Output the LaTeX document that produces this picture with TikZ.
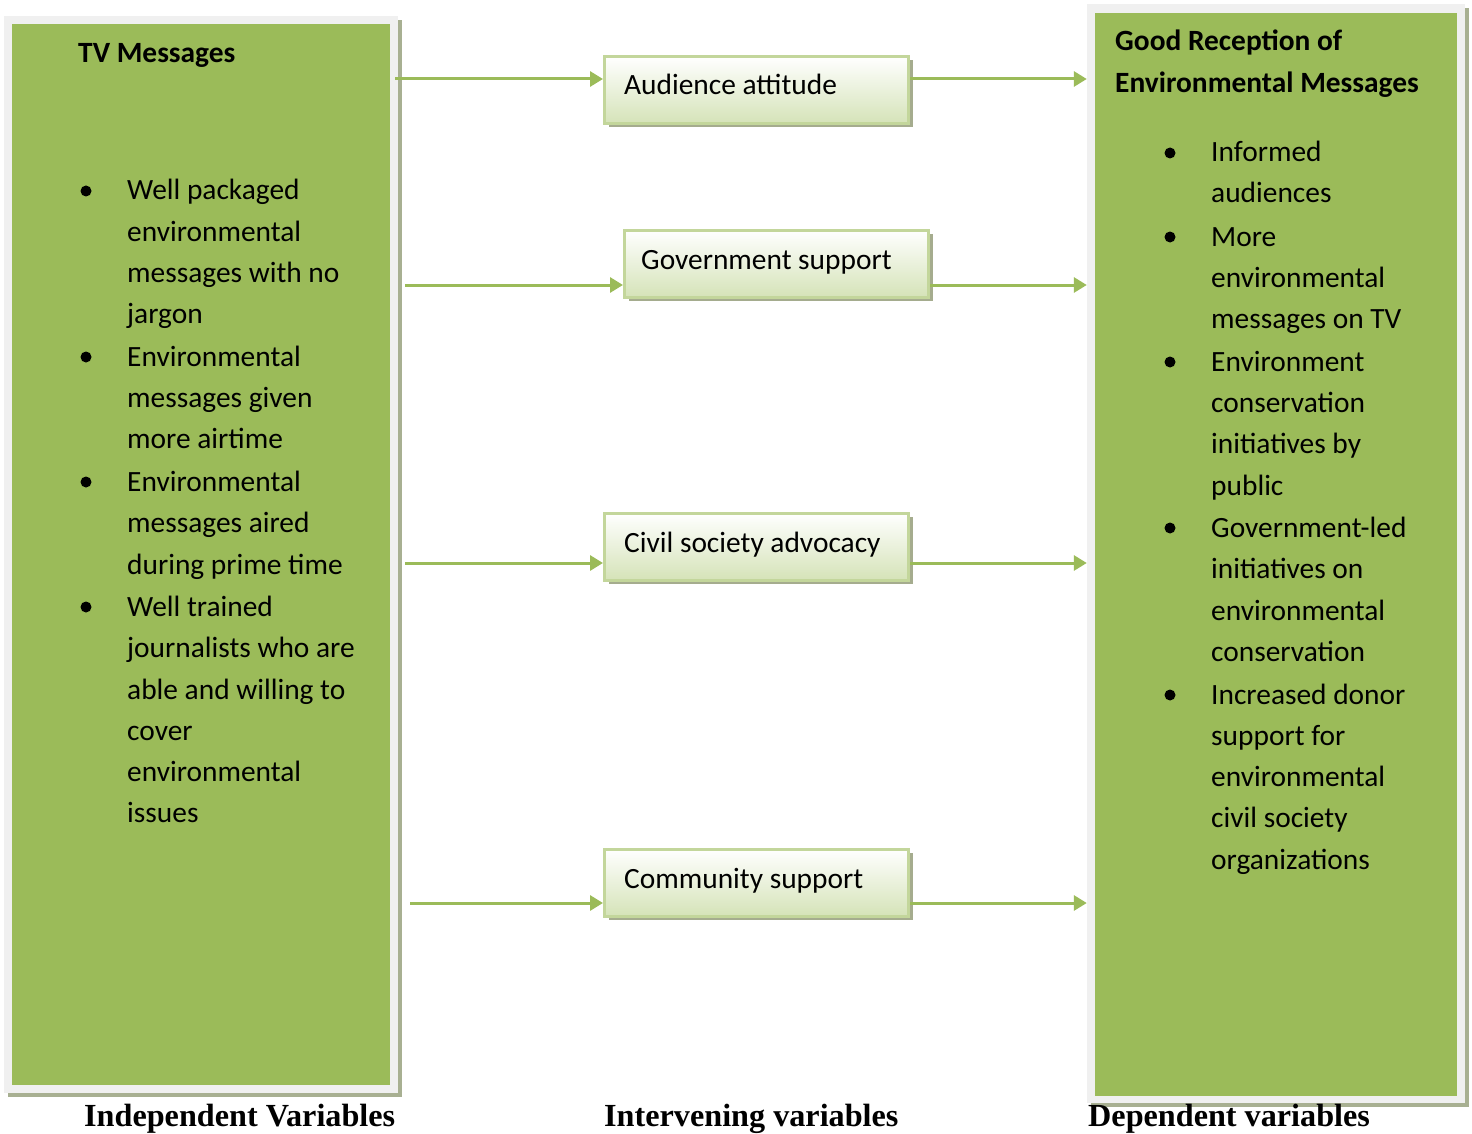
\documentclass[tikz,border=0pt]{standalone}
\usepackage{fontspec}
\setmainfont{Carlito}
\newfontfamily\tnr{Liberation Serif}
\usetikzlibrary{arrows.meta,shadows}
\definecolor{leafgreen}{HTML}{9BBB59}
\definecolor{framegray}{HTML}{F0F0F0}
\definecolor{shadowc}{HTML}{A8B092}
\definecolor{midborder}{HTML}{C3D69B}
\definecolor{midbottom}{HTML}{D5E3B8}
\definecolor{midshadow}{HTML}{A5AC8E}
\begin{document}
\begin{tikzpicture}[x=1pt,y=-1pt,
  bigframe/.style={fill=framegray, inner sep=0, draw=none,
    drop shadow={shadow xshift=4pt, shadow yshift=-4pt, fill=shadowc, opacity=1}},
  greenpanel/.style={fill=leafgreen, inner sep=0, draw=none},
  midbox/.style={draw=midborder, line width=3pt, top color=white, bottom color=midbottom,
    minimum width=304, minimum height=67, inner sep=0,
    drop shadow={shadow xshift=4pt, shadow yshift=-4pt, fill=midshadow, opacity=1}},
  lbl/.style={font=\fontsize{29.4}{35}\selectfont, inner sep=0, anchor=base west},
  head/.style={font=\fontsize{29.4}{35}\selectfont\bfseries, inner sep=0, anchor=base west},
  foot/.style={font=\fontsize{32.2}{37}\selectfont\tnr\bfseries, inner sep=0, anchor=base west},
  dot/.style={circle, fill=black, inner sep=0, minimum size=11},
  arr/.style={draw=leafgreen, line width=3pt, -{Triangle[length=13pt,width=15pt]}}
]
\useasboundingbox (0,0) rectangle (1472,1134);

% big boxes
\node[bigframe, minimum width=394, minimum height=1077] (indep) at (201,554.5) {};
\node[greenpanel, minimum width=378, minimum height=1061] (indepin) at (201,554.5) {};
\node[bigframe, minimum width=378, minimum height=1099] (dep) at (1276,553.5) {};
\node[greenpanel, minimum width=362, minimum height=1083] (depin) at (1276,554.5) {};

% middle boxes
\node[midbox] (aud) at (756.5,90) {};
\node[midbox] (gov) at (776.5,263.5) {};
\node[midbox] (civ) at (756.5,546.5) {};
\node[midbox] (com) at (756.5,882.5) {};
\node[lbl] (audt) at (624,95) {Audience attitude};
\node[lbl] (govt) at (641,269) {Government support};
\node[lbl] (civt) at (624,552) {Civil society advocacy};
\node[lbl] (comt) at (624,888) {Community support};

% connectors
\coordinate (s1) at (395,79);
\coordinate (s2) at (405,285);
\coordinate (s3) at (405,563);
\coordinate (s4) at (410,903);
\draw[arr] (s1) -- (aud.west |- s1);
\draw[arr] (aud.east |- s1) -- (dep.west |- s1);
\draw[arr] (s2) -- (gov.west |- s2);
\draw[arr] (gov.east |- s2) -- (dep.west |- s2);
\draw[arr] (s3) -- (civ.west |- s3);
\draw[arr] (civ.east |- s3) -- (dep.west |- s3);
\draw[arr] (s4) -- (com.west |- s4);
\draw[arr] (com.east |- s4) -- (dep.west |- s4);

% left box text
\node[head] (tvh) at (78,63) {TV Messages};
\foreach \y [count=\i] in {191,357,482,607} \node[dot] (lb\i) at (86,\y) {};
\foreach \t/\y [count=\i] in {Well packaged/200, environmental/241, messages with no/282, jargon/323,
  Environmental/366, messages given/407, more airtime/448,
  Environmental/491, messages aired/532, during prime time/574,
  Well trained/616, journalists who are/657, able and willing to/699, cover/740, environmental/781, issues/822}
  \node[lbl] (lt\i) at (127,\y) {\t};

% right box text
\node[head] (gh1) at (1115,51) {Good Reception of};
\node[head] (gh2) at (1115,93) {Environmental Messages};
\foreach \y [count=\i] in {153,237,362,528,695} \node[dot] (rb\i) at (1170,\y) {};
\foreach \t/\y [count=\i] in {Informed/162, audiences/203,
  More/246, environmental/287, messages on TV/328,
  Environment/371, conservation/412, initiatives by/453, public/495,
  Government-led/537, initiatives on/578, environmental/620, conservation/661,
  Increased donor/704, support for/745, environmental/786, civil society/827, organizations/869}
  \node[lbl] (rt\i) at (1211,\y) {\t};

% footer labels
\node[foot] (f1) at (84,1126) {Independent Variables};
\node[foot] (f2) at (604,1126) {Intervening variables};
\node[foot] (f3) at (1088,1126) {Dependent variables};
\end{tikzpicture}
\end{document}
